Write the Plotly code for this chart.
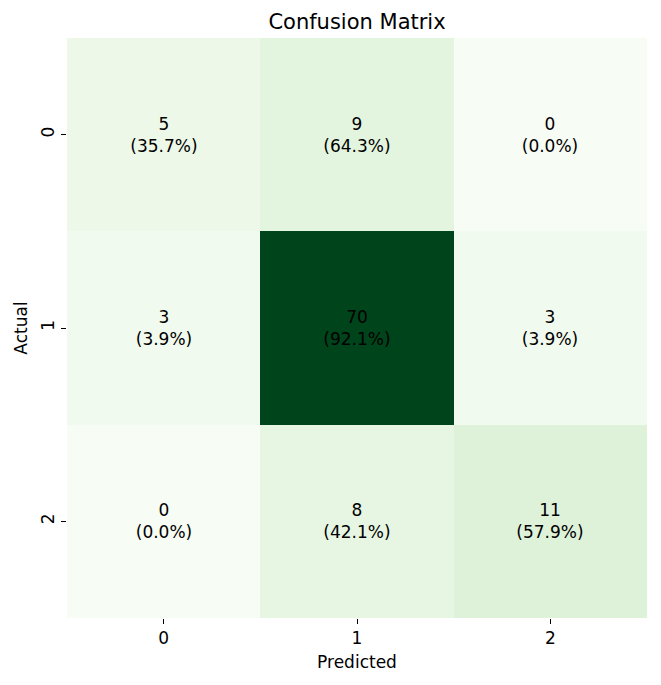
import plotly.graph_objects as go

# ----------------Dados da matriz de confusão----------------
labels = ['0', '1', '2']
counts = [[5, 9, 0],
          [3, 70, 3],
          [0, 8, 11]]
percents = [[35.7, 64.3, 0.0],
            [3.9, 92.1, 3.9],
            [0.0, 42.1, 57.9]]

# texto de cada célula: contagem e percentual da linha
cell_text = [[f'{c}<br>({p:.1f}%)' for c, p in zip(rc, rp)]
             for rc, rp in zip(counts, percents)]

greens = ['#f7fcf5', '#e5f5e0', '#c7e9c0', '#a1d99b', '#74c476',
          '#41ab5d', '#238b45', '#006d2c', '#00441b']
scale = [[i / (len(greens) - 1), c] for i, c in enumerate(greens)]

fig = go.Figure(go.Heatmap(z=counts, x=labels, y=labels,
                           text=cell_text, texttemplate='%{text}',
                           textfont=dict(color='black', size=17),
                           colorscale=scale, showscale=False))

# a página tem 8px de margem no body, por isso as margens são compensadas
fig.update_layout(
    width=661, height=685,
    margin=dict(l=59, r=22, t=30, b=75),
    paper_bgcolor='white', plot_bgcolor='white',
    font=dict(family='DejaVu Sans', color='black', size=17),
    title=dict(text='Confusion Matrix', xref='paper', x=0.5, xanchor='center',
               y=1 - 14 / 685, yanchor='middle', font=dict(size=21)),
)
fig.update_xaxes(title=dict(text='Predicted', font=dict(size=17), standoff=8),
                 ticks='outside', ticklen=5, tickcolor='black',
                 tickfont=dict(size=17), showgrid=False, zeroline=False)
fig.update_yaxes(title=dict(text='Actual', font=dict(size=17), standoff=6),
                 autorange='reversed', tickangle=-90,
                 ticks='outside', ticklen=5, tickcolor='black',
                 tickfont=dict(size=17), showgrid=False, zeroline=False)

fig.write_html('out.html')
